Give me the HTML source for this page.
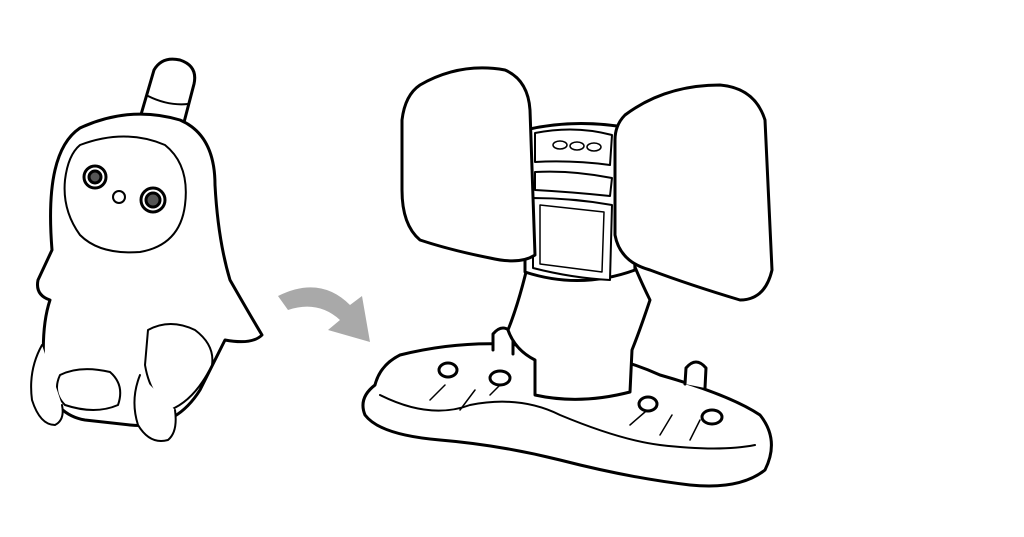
<!DOCTYPE html>
<html><head><meta charset="utf-8"><style>html,body{margin:0;padding:0;background:#fff}svg{display:block}</style></head><body>
<svg width="1024" height="537" viewBox="0 0 1024 537" xmlns="http://www.w3.org/2000/svg">
<g fill="#fff" stroke="#000" stroke-width="3" stroke-linejoin="round" stroke-linecap="round">
<!-- robot antenna (tilted) -->
<path d="M140 118 L154 70 Q162 56 180 60 Q198 66 194 84 L182 130 Z"/>
<path d="M148 96 Q168 106 188 104" fill="none" stroke-width="2"/>
<!-- robot body -->
<path d="M80 128 Q130 105 180 120 Q215 135 215 185 Q218 240 230 280 Q250 315 262 335 Q252 345 225 340 Q215 360 200 390 Q175 430 130 425 L85 420 Q55 415 45 380 Q40 330 50 300 Q35 295 38 280 Q45 265 52 250 Q48 200 55 170 Q62 140 80 128 Z"/>
<!-- face -->
<path d="M80 145 Q125 128 165 145 Q190 165 185 205 Q180 245 140 252 Q100 255 80 235 Q62 210 65 180 Q68 155 80 145 Z" stroke-width="2"/>
<circle cx="95" cy="177" r="11"/><circle cx="95" cy="177" r="6" fill="#555"/>
<circle cx="153" cy="200" r="12"/><circle cx="153" cy="200" r="7" fill="#555"/>
<circle cx="119" cy="197" r="6" stroke-width="2"/>
<!-- legs/feet -->
<path d="M60 375 Q80 365 110 372 Q125 385 118 405 Q95 415 65 405 Q52 392 60 375 Z" stroke-width="2"/>
<path d="M148 330 Q170 318 195 330 Q215 345 212 365 Q195 400 170 410 Q150 395 145 365 Z" stroke-width="2"/>
<path d="M140 375 Q130 400 138 425 Q150 445 168 440 Q178 432 175 410" stroke-width="2"/>
<path d="M42 345 Q28 370 32 400 Q40 425 55 425 Q65 420 62 405" stroke-width="2"/>
<!-- arrow -->
<path d="M278 296 Q320 275 350 305 L362 296 L370 342 L328 330 L340 320 Q318 300 288 310 Z" fill="#a9a9a9" stroke="none"/>
<!-- base -->
<path d="M400 355 Q460 340 520 345 Q600 348 660 375 Q730 395 760 415 Q780 440 765 470 Q740 490 690 485 Q630 478 560 460 Q500 445 440 440 Q380 435 365 415 Q358 398 375 385 Q380 365 400 355 Z"/>
<path d="M380 395 Q430 420 470 405 Q520 395 560 415 Q620 440 660 445 Q720 452 755 445" fill="none" stroke-width="2"/>
<!-- pegs -->
<path d="M493 350 L493 334 Q503 322 513 334 L513 354"/>
<path d="M685 384 L686 368 Q696 356 706 368 L705 388"/>
<ellipse cx="448" cy="370" rx="9" ry="7"/><ellipse cx="500" cy="378" rx="10" ry="7"/>
<ellipse cx="648" cy="404" rx="9" ry="7"/><ellipse cx="712" cy="417" rx="10" ry="7"/>
<path d="M430 400 L445 385 M460 410 L475 390 M490 395 L500 385 M630 425 L645 412 M660 435 L672 415 M690 440 L700 420" fill="none" stroke-width="1.5"/>
<!-- column -->
<path d="M530 255 Q520 300 508 330 Q515 350 535 360 L535 395 Q580 405 630 392 L632 350 Q640 330 650 300 Q640 280 630 255 Z"/>
<!-- central unit -->
<path d="M525 130 Q575 118 630 128 L635 270 Q580 290 525 272 Z"/>
<path d="M535 133 Q575 125 612 135 L610 165 Q572 160 535 162 Z" stroke-width="2"/>
<ellipse cx="560" cy="145" rx="7" ry="4" stroke-width="1.5"/><ellipse cx="577" cy="146" rx="7" ry="4" stroke-width="1.5"/><ellipse cx="594" cy="147" rx="7" ry="4" stroke-width="1.5"/>
<path d="M535 172 Q572 170 612 178 L610 196 Q572 192 535 190 Z" stroke-width="2"/>
<path d="M533 198 Q572 198 612 205 L610 280 Q572 278 533 268 Z" stroke-width="2"/>
<path d="M540 205 L604 212 L602 272 L540 264 Z" stroke-width="1.5"/>
<!-- left wing -->
<path d="M420 85 Q460 62 505 70 Q528 80 530 110 L535 255 Q520 265 490 258 Q450 250 420 240 Q402 225 402 190 L402 120 Q405 95 420 85 Z"/>
<!-- right wing -->
<path d="M625 115 Q665 85 720 85 Q755 88 765 120 L772 270 Q765 300 740 300 Q690 285 650 270 Q620 262 615 235 L615 140 Q615 125 625 115 Z"/>
</g>
</svg>
</body></html>
